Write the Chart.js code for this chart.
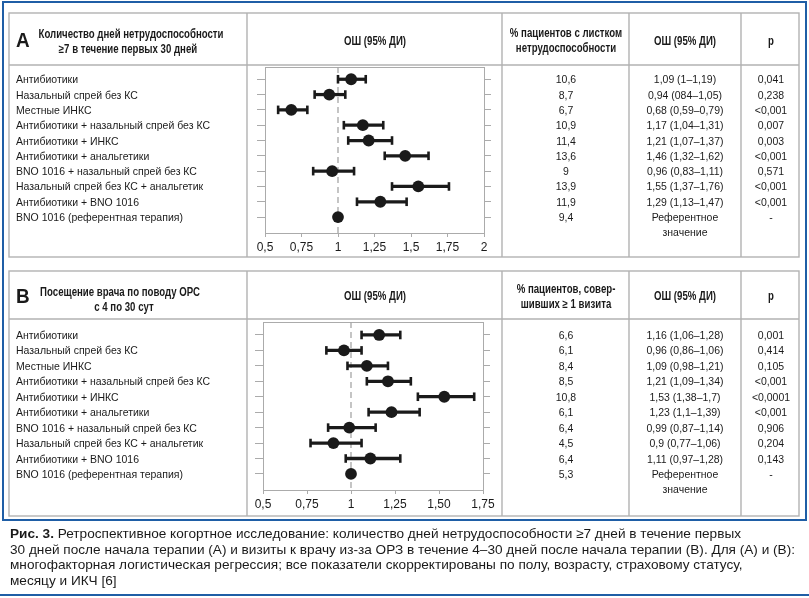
<!DOCTYPE html>
<html><head><meta charset="utf-8">
<script src="https://cdn.jsdelivr.net/npm/chart.js@4.4.0/dist/chart.umd.min.js"></script>
<style>
html,body{margin:0;padding:0;background:#fff;}
#page{position:relative;width:809px;height:598px;overflow:hidden;font-family:"Liberation Sans",Arial,sans-serif;color:#1a1a1a;}
.abs{position:absolute;white-space:nowrap;line-height:1;}
canvas{position:absolute;left:0;top:0;}
#frame{position:absolute;left:2px;top:1px;width:801px;height:516px;border:2px solid #1f5ea6;}
#bottomline{position:absolute;left:0;top:594px;width:809px;height:2px;background:#1f5ea6;}
#caption{position:absolute;left:10px;top:526px;font-size:13px;line-height:15.5px;white-space:nowrap;transform-origin:0 0;color:#1a1a1a;}
</style></head><body><div id="page">
<div id="frame"></div>
<canvas id="cA" width="809" height="598"></canvas>
<canvas id="cB" width="809" height="598"></canvas>
<div id="caption"><b>Рис. 3.</b> Ретроспективное когортное исследование: количество дней нетрудоспособности ≥7 дней в течение первых<br>30 дней после начала терапии (А) и визиты к врачу из-за ОРЗ в течение 4–30 дней после начала терапии (В). Для (А) и (В):<br>многофакторная логистическая регрессия; все показатели скорректированы по полу, возрасту, страховому статусу,<br>месяцу и ИКЧ [6]</div>
<div id="bottomline"></div>
</div>
<script>
// ---------- DATA ----------
const categories = ["Антибиотики","Назальный спрей без КС","Местные ИНКС","Антибиотики + назальный спрей без КС","Антибиотики + ИНКС","Антибиотики + анальгетики","BNO 1016 + назальный спрей без КС","Назальный спрей без КС + анальгетик","Антибиотики + BNO 1016","BNO 1016 (референтная терапия)"];

const orA = [1.09,0.94,0.68,1.17,1.21,1.46,0.96,1.55,1.29,1];
const loA = [1,0.84,0.59,1.04,1.07,1.32,0.83,1.37,1.13,null];
const hiA = [1.19,1.05,0.79,1.31,1.37,1.62,1.11,1.76,1.47,null];
const pctA = ["10,6","8,7","6,7","10,9","11,4","13,6","9","13,9","11,9","9,4"];
const orTextA = ["1,09 (1–1,19)","0,94 (084–1,05)","0,68 (0,59–0,79)","1,17 (1,04–1,31)","1,21 (1,07–1,37)","1,46 (1,32–1,62)","0,96 (0,83–1,11)","1,55 (1,37–1,76)","1,29 (1,13–1,47)","Референтное"];
const pA = ["0,041","0,238","<0,001","0,007","0,003","<0,001","0,571","<0,001","<0,001","-"];
const tickValsA = [0.5,0.75,1,1.25,1.5,1.75,2];
const tickLabelsA = ["0,5","0,75","1","1,25","1,5","1,75","2"];

const orB = [1.16,0.96,1.09,1.21,1.53,1.23,0.99,0.9,1.11,1];
const loB = [1.06,0.86,0.98,1.09,1.38,1.1,0.87,0.77,0.97,null];
const hiB = [1.28,1.06,1.21,1.34,1.7,1.39,1.14,1.06,1.28,null];
const pctB = ["6,6","6,1","8,4","8,5","10,8","6,1","6,4","4,5","6,4","5,3"];
const orTextB = ["1,16 (1,06–1,28)","0,96 (0,86–1,06)","1,09 (0,98–1,21)","1,21 (1,09–1,34)","1,53 (1,38–1,7)","1,23 (1,1–1,39)","0,99 (0,87–1,14)","0,9 (0,77–1,06)","1,11 (0,97–1,28)","Референтное"];
const pB = ["0,001","0,414","0,105","<0,001","<0,0001","<0,001","0,906","0,204","0,143","-"];
const tickValsB = [0.5,0.75,1,1.25,1.5,1.75];
const tickLabelsB = ["0,5","0,75","1","1,25","1,50","1,75"];

const refLabel2 = "значение";
// ---------- END DATA ----------

const FAM = '"Liberation Sans", Arial, sans-serif';
const INK = '#1a1a1a';
const GRID = '#ababab';
const page = document.getElementById('page');
const mctx = document.createElement('canvas').getContext('2d');
function measure(txt, font){ mctx.font = font; return mctx.measureText(txt).width; }

const F_ROW = `normal 11.5px ${FAM}`;
const F_HEAD = `bold 12px ${FAM}`;
const SX_ROW = 194 / measure("Антибиотики + назальный спрей без КС", F_ROW);
const SX_HEAD = 185 / measure("Количество дней нетрудоспособности", F_HEAD);

function addText(txt, x, y, align, font, sx){
  const d = document.createElement('div');
  d.className = 'abs';
  d.textContent = txt;
  d.style.font = font;
  d.style.color = INK;
  d.style.left = x + 'px';
  d.style.top = y + 'px';
  const tx = align === 'center' ? '-50%' : align === 'right' ? '-100%' : '0';
  d.style.transformOrigin = align === 'center' ? '50% 50%' : align === 'right' ? '100% 50%' : '0 50%';
  d.style.transform = `translate(${tx}, -50%) scaleX(${sx})`;
  page.appendChild(d);
  return d;
}

function tablePlugin(t){
  return {
    id: 'table',
    beforeDraw(chart){
      const c = chart.ctx;
      c.save();
      c.strokeStyle = '#b2b2b2';
      c.lineWidth = 1.4;
      c.strokeRect(t.left, t.top, t.right - t.left, t.bottom - t.top);
      c.beginPath();
      c.moveTo(t.left, t.head); c.lineTo(t.right, t.head);
      t.cols.forEach(x => { c.moveTo(x, t.top); c.lineTo(x, t.bottom); });
      c.stroke();
      c.restore();
    }
  };
}

function forest(id, cfg){
  const bars = [], caps = [];
  cfg.lo.forEach((l, i) => {
    if (l == null) return;
    bars.push({y: i, x: [l, cfg.hi[i]]});
    caps.push({x: l, y: i}, {x: cfg.hi[i], y: i});
  });
  const dots = cfg.or.map((v, i) => ({x: v, y: i}));
  const rows = cfg.or.map((_, i) => i);
  const area = cfg.area;
  const axisGrid = {drawOnChartArea: false, drawTicks: true, offset: false, color: GRID, lineWidth: 1};
  return new Chart(document.getElementById(id), {
    type: 'scatter',
    data: {datasets: [
      {type: 'line', data: [{x: 1, y: cfg.yMin}, {x: 1, y: cfg.yMax}], borderColor: '#a6a6a6', borderWidth: 1.3, borderDash: [6, 4], pointRadius: 0, order: 3},
      {type: 'bar', indexAxis: 'y', data: bars, backgroundColor: INK, barThickness: 2.6, grouped: false, order: 2},
      {type: 'scatter', data: caps, pointStyle: 'line', pointRotation: 90, pointRadius: 4.3, pointBorderWidth: 2.6, pointBorderColor: INK, borderColor: INK, order: 1},
      {type: 'scatter', data: dots, pointRadius: 5.9, pointBackgroundColor: INK, backgroundColor: INK, pointBorderWidth: 0, order: 0}
    ]},
    options: {
      responsive: false, animation: false, events: [], devicePixelRatio: 1,
      layout: {padding: {left: area.left - 12, right: 809 - 8 - area.right, top: area.top - 1, bottom: 598 - 24 - area.bottom}},
      plugins: {legend: {display: false}, tooltip: {enabled: false}},
      scales: {
        x: {type: 'linear', position: 'bottom', offset: false, min: cfg.ticks[0], max: cfg.ticks[cfg.ticks.length - 1],
            afterBuildTicks: s => { s.ticks = cfg.ticks.map(v => ({value: v})); },
            ticks: {autoSkip: false, maxRotation: 0, color: INK, padding: 3, font: {family: FAM, size: 12},
                    callback: (v, i) => cfg.tickLabels[i]},
            grid: Object.assign({}, axisGrid, {tickLength: 4}),
            border: {color: GRID, width: 1},
            afterFit: s => { s.height = 24; }},
        x2: {type: 'linear', position: 'top', offset: false, min: cfg.ticks[0], max: cfg.ticks[cfg.ticks.length - 1],
             ticks: {display: false}, grid: {display: false, drawTicks: false},
             border: {display: true, color: GRID, width: 1},
             afterFit: s => { s.height = 1; }},
        y: {type: 'linear', position: 'left', reverse: true, offset: false, min: cfg.yMin, max: cfg.yMax,
            afterBuildTicks: s => { s.ticks = rows.map(v => ({value: v})); },
            ticks: {display: false},
            grid: Object.assign({}, axisGrid, {tickLength: 8}),
            border: {color: GRID, width: 1},
            afterFit: s => { s.width = 12; }},
        y2: {type: 'linear', position: 'right', reverse: true, offset: false, min: cfg.yMin, max: cfg.yMax,
             afterBuildTicks: s => { s.ticks = rows.map(v => ({value: v})); },
             ticks: {display: false},
             grid: Object.assign({}, axisGrid, {tickLength: 7}),
             border: {color: GRID, width: 1},
             afterFit: s => { s.width = 8; }}
      }
    },
    plugins: [tablePlugin(cfg.table)]
  });
}

function fillRows(chart, pct, orText, pv){
  const ys = chart.scales.y;
  categories.forEach((lab, i) => {
    const y = ys.getPixelForValue(i);
    addText(lab, 16, y, 'left', F_ROW, SX_ROW);
    addText(pct[i], 566, y, 'center', F_ROW, SX_ROW);
    addText(orText[i], 685, y, 'center', F_ROW, SX_ROW);
    addText(pv[i], 771, y, 'center', F_ROW, SX_ROW);
  });
  addText(refLabel2, 685, ys.getPixelForValue(categories.length), 'center', F_ROW, SX_ROW);
}

const chartA = forest('cA', {
  or: orA, lo: loA, hi: hiA, ticks: tickValsA, tickLabels: tickLabelsA,
  yMin: -0.8, yMax: 10.04,
  area: {left: 265, right: 484, top: 67, bottom: 233},
  table: {left: 9, right: 799, top: 13, bottom: 257, head: 65, cols: [247, 502, 629, 741]}
});
const chartB = forest('cB', {
  or: orB, lo: loB, hi: hiB, ticks: tickValsB, tickLabels: tickLabelsB,
  yMin: -0.84, yMax: 10.04,
  area: {left: 263, right: 483, top: 322, bottom: 490},
  table: {left: 9, right: 799, top: 271, bottom: 516, head: 319, cols: [247, 502, 629, 741]}
});

fillRows(chartA, pctA, orTextA, pA);
fillRows(chartB, pctB, orTextB, pB);

// headers
const F_BIG = `bold 21px ${FAM}`;
addText("А", 16, 40, 'left', F_BIG, 0.9);
addText("Количество дней нетрудоспособности", 131, 34, 'center', F_HEAD, SX_HEAD);
addText("≥7 в течение первых 30 дней", 128, 49, 'center', F_HEAD, SX_HEAD);
addText("ОШ (95% ДИ)", 375, 41, 'center', F_HEAD, SX_HEAD);
addText("% пациентов с листком", 566, 33, 'center', F_HEAD, SX_HEAD);
addText("нетрудоспособности", 566, 48, 'center', F_HEAD, SX_HEAD);
addText("ОШ (95% ДИ)", 685, 41, 'center', F_HEAD, SX_HEAD);
addText("p", 771, 41, 'center', F_HEAD, SX_HEAD);

addText("В", 16, 296, 'left', F_BIG, 0.9);
addText("Посещение врача по поводу ОРС", 120, 292, 'center', F_HEAD, SX_HEAD);
addText("с 4 по 30 сут", 124, 307, 'center', F_HEAD, SX_HEAD);
addText("ОШ (95% ДИ)", 375, 296, 'center', F_HEAD, SX_HEAD);
addText("% пациентов, совер-", 566, 289, 'center', F_HEAD, SX_HEAD);
addText("шивших ≥ 1 визита", 566, 304, 'center', F_HEAD, SX_HEAD);
addText("ОШ (95% ДИ)", 685, 296, 'center', F_HEAD, SX_HEAD);
addText("p", 771, 296, 'center', F_HEAD, SX_HEAD);

// caption width fit
const cap = document.getElementById('caption');
const capLine2 = "30 дней после начала терапии (А) и визиты к врачу из-за ОРЗ в течение 4–30 дней после начала терапии (В). Для (А) и (В):";
const capSx = 785 / measure(capLine2, `normal 13px ${FAM}`);
cap.style.transform = `scaleX(${capSx})`;
</script>
</body></html>
